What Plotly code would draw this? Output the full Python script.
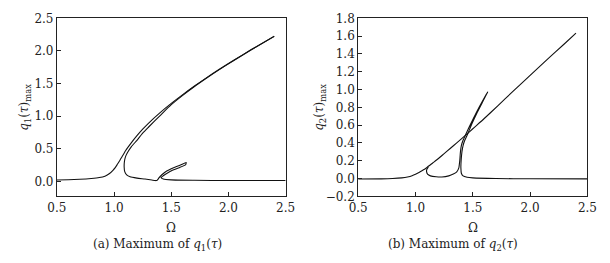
import plotly.graph_objects as go

# ---------------- data: panel (a) q1 ----------------
q1_outer_om = [0.5, 0.6, 0.7, 0.8, 0.87, 0.92, 0.96, 0.99, 1.01, 1.03, 1.05, 1.07, 1.09, 1.10,
               1.15, 1.20, 1.25, 1.30, 1.40, 1.50, 1.60, 1.70, 1.80, 1.92, 2.05, 2.20, 2.40]
q1_outer_q = [0.02, 0.025, 0.032, 0.044, 0.058, 0.08, 0.12, 0.17, 0.21, 0.265, 0.32, 0.38, 0.44,
              0.47, 0.59, 0.70, 0.80, 0.89, 1.05, 1.195, 1.33, 1.458, 1.58, 1.719, 1.862, 2.021,
              2.227]

q1_inner_om = [2.4, 2.2, 2.05, 1.92, 1.8, 1.7, 1.6, 1.5, 1.4, 1.3, 1.25, 1.2, 1.15, 1.12, 1.10,
               1.09, 1.088, 1.093, 1.11, 1.14, 1.2, 1.27, 1.33, 1.36, 1.375, 1.385, 1.39, 1.42,
               1.46, 1.52, 1.58, 1.63, 1.625, 1.57, 1.51, 1.46, 1.43, 1.41, 1.43, 1.5, 1.7, 2.0,
               2.5]
q1_inner_q = [2.224, 2.018, 1.858, 1.714, 1.574, 1.451, 1.319, 1.176, 1.005, 0.83, 0.74, 0.63, 0.53,
              0.45, 0.38, 0.30, 0.22, 0.15, 0.10, 0.07, 0.05, 0.035, 0.02, 0.012, 0.015, 0.035,
              0.05, 0.105, 0.16, 0.21, 0.25, 0.29, 0.255, 0.21, 0.17, 0.12, 0.085, 0.058, 0.035,
              0.022, 0.016, 0.013, 0.012]

# ---------------- data: panel (b) q2 ----------------
q2_main_om = [0.5, 0.7, 0.8, 0.88, 0.93, 0.97, 1.0, 1.03, 1.07, 1.1, 1.15, 1.2, 1.25, 1.3, 1.36,
              1.44, 1.5, 1.6, 1.72, 1.85, 2.0, 2.15, 2.3, 2.4]
q2_main_q = [-0.005, -0.004, 0.0, 0.008, 0.018, 0.032, 0.048, 0.068, 0.098, 0.125, 0.175, 0.225,
             0.28, 0.335, 0.40, 0.49, 0.56, 0.675, 0.82, 0.98, 1.16, 1.34, 1.515, 1.635]

q2_loop_om = [1.112, 1.098, 1.097, 1.105, 1.13, 1.18, 1.23, 1.29, 1.33, 1.36, 1.378, 1.386, 1.392,
              1.40, 1.415, 1.44, 1.48, 1.53, 1.58, 1.63, 1.585, 1.535, 1.49, 1.455, 1.43, 1.415,
              1.405, 1.398, 1.396, 1.40, 1.415, 1.45, 1.5, 1.7, 2.0, 2.5]
q2_loop_q = [0.13, 0.10, 0.075, 0.05, 0.03, 0.02, 0.018, 0.03, 0.05, 0.075, 0.12, 0.2, 0.3,
             0.37, 0.43, 0.5, 0.61, 0.74, 0.86, 0.975, 0.86, 0.735, 0.61, 0.5, 0.43, 0.37,
             0.3, 0.2, 0.12, 0.06, 0.03, 0.015, 0.008, 0.0, -0.003, -0.004]

x_ticks = [0.5, 1.0, 1.5, 2.0, 2.5]
y1_ticks = [0.0, 0.5, 1.0, 1.5, 2.0, 2.5]
y2_ticks = [-0.2, 0.0, 0.2, 0.4, 0.6, 0.8, 1.0, 1.2, 1.4, 1.6, 1.8]

FONT = "DejaVu Serif"
FS = 12
LINE = dict(color="#111111", width=1.1)

fig = go.Figure()
fig.add_trace(go.Scatter(x=q1_outer_om, y=q1_outer_q, mode="lines", line=dict(LINE, shape="spline", smoothing=0.7),
                         xaxis="x", yaxis="y", showlegend=False))
fig.add_trace(go.Scatter(x=q1_inner_om, y=q1_inner_q, mode="lines", line=dict(LINE, shape="spline", smoothing=0.5),
                         xaxis="x", yaxis="y", showlegend=False))
fig.add_trace(go.Scatter(x=q2_main_om, y=q2_main_q, mode="lines", line=dict(LINE, shape="spline", smoothing=0.6),
                         xaxis="x2", yaxis="y2", showlegend=False))
fig.add_trace(go.Scatter(x=q2_loop_om, y=q2_loop_q, mode="lines", line=dict(LINE, shape="spline", smoothing=0.5),
                         xaxis="x2", yaxis="y2", showlegend=False))

W, H = 610, 263
ydom = [1 - 200 / H, 1 - 12 / H]
axis_common = dict(showgrid=False, zeroline=False, showline=True, linecolor="#222222", linewidth=1,
                   mirror=True, ticks="inside", ticklen=4, tickcolor="#222222", tickwidth=1,
                   tickfont=dict(family=FONT, size=FS, color="#222222"))

fig.update_layout(
    width=W, height=H, margin=dict(l=0, r=0, t=0, b=0),
    paper_bgcolor="white", plot_bgcolor="white",
    font=dict(family=FONT, size=FS, color="#222222"),
    xaxis=dict(axis_common, domain=[48.5 / W, 285 / W], range=[0.5, 2.5], tickvals=x_ticks,
               ticktext=[f"{v:.1f}" for v in x_ticks], anchor="y"),
    yaxis=dict(axis_common, domain=ydom, range=[-0.23, 2.5], tickvals=y1_ticks,
               ticktext=[f"{v:.1f}" for v in y1_ticks], anchor="x"),
    xaxis2=dict(axis_common, domain=[360 / W, 597 / W], range=[0.5, 2.5], tickvals=x_ticks,
                ticktext=[f"{v:.1f}" for v in x_ticks], anchor="y2"),
    yaxis2=dict(axis_common, domain=ydom, range=[-0.2, 1.8], tickvals=y2_ticks,
                ticktext=[f"{v:.1f}".replace("-", "\u2212") for v in y2_ticks], anchor="x2"),
)

tf = dict(family=FONT, size=FS, color="#222222")
ann = [
    dict(x=166 / W, y=1 - 233 / H, text="Ω"),
    dict(x=479 / W, y=1 - 233 / H, text="Ω"),
    dict(x=152 / W, y=1 - 251 / H, text="(a) Maximum of <i>q</i><sub>1</sub>(<i>τ</i>)"),
    dict(x=457.5 / W, y=1 - 251 / H, text="(b) Maximum of <i>q</i><sub>2</sub>(<i>τ</i>)"),
    dict(x=16 / W, y=1 - 106 / H, text="<i>q</i><sub>1</sub>(<i>τ</i>)<sub>max</sub>", textangle=-90),
    dict(x=321 / W, y=1 - 106 / H, text="<i>q</i><sub>2</sub>(<i>τ</i>)<sub>max</sub>", textangle=-90),
]
for a in ann:
    fig.add_annotation(xref="paper", yref="paper", showarrow=False, xanchor="center",
                       yanchor="middle", font=tf, **a)

fig.write_html("out.html")
